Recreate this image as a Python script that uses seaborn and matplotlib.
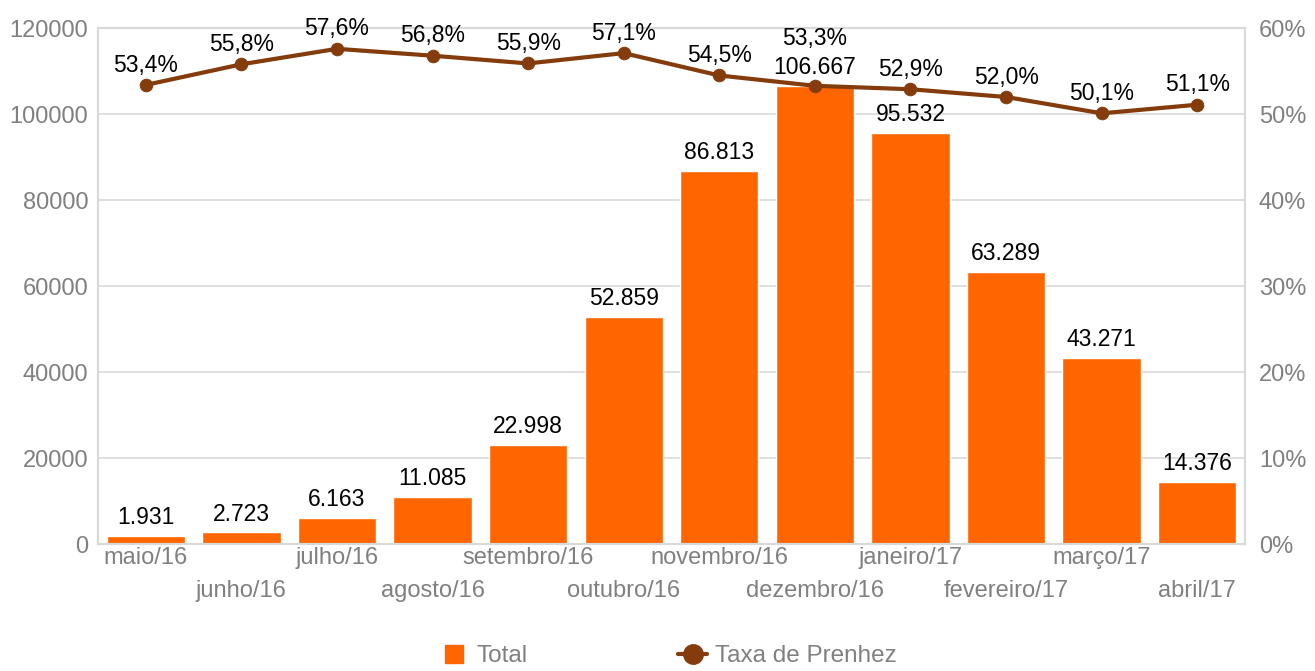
import matplotlib
matplotlib.use("Agg")
import matplotlib.pyplot as plt
import seaborn as sns
import pandas as pd
from matplotlib.lines import Line2D

# data
meses = ['maio/16', 'junho/16', 'julho/16', 'agosto/16', 'setembro/16', 'outubro/16',
         'novembro/16', 'dezembro/16', 'janeiro/17', 'fevereiro/17', 'março/17', 'abril/17']
total = [1931, 2723, 6163, 11085, 22998, 52859, 86813, 106667, 95532, 63289, 43271, 14376]
taxa = [53.4, 55.8, 57.6, 56.8, 55.9, 57.1, 54.5, 53.3, 52.9, 52.0, 50.1, 51.1]

df = pd.DataFrame({'mes': meses, 'total': total, 'taxa': taxa})

sns.set_style('white')
plt.rcParams['font.family'] = ['Liberation Sans', 'DejaVu Sans']

laranja = '#FF6600'
marrom = '#843C0C'
cinza = '#808080'
grade = '#D9D9D9'

fig = plt.figure(figsize=(13.15, 6.71), dpi=100)
ax = fig.add_axes([0.0745, 0.189, 0.8723, 0.769])

sns.barplot(data=df, x='mes', y='total', color=laranja, width=0.82,
            saturation=1, ax=ax, zorder=2)
ax.set_ylim(0, 120000)
ax.set_yticks(range(0, 120001, 20000))
ax.set_xlim(-0.5, len(meses) - 0.5)
ax.yaxis.grid(True, color=grade, linewidth=1.2, zorder=0)
ax.set_axisbelow(True)
ax.set_xlabel('')
ax.set_ylabel('')

# staggered month labels: even ones on major ticks, odd ones on minor ticks one row lower
pares = list(range(0, len(meses), 2))
impares = list(range(1, len(meses), 2))
ax.set_xticks(pares)
ax.set_xticklabels([meses[i] for i in pares])
ax.set_xticks(impares, minor=True)
ax.set_xticklabels([meses[i] for i in impares], minor=True)
ax.tick_params(axis='x', which='major', length=0, labelsize=17, colors=cinza, pad=2)
ax.tick_params(axis='x', which='minor', length=0, labelsize=17, colors=cinza, pad=26)
ax.tick_params(axis='y', length=0, labelsize=17, colors=cinza, pad=7)

for s in ax.spines.values():
    s.set_color(grade)
    s.set_linewidth(1.5)

# bar value labels
for i, v in enumerate(total):
    ax.annotate(f'{v:,}'.replace(',', '.'), (i, v), xytext=(0, 5),
                textcoords='offset points', ha='center', va='bottom',
                fontsize=16.5, color='black')

ax2 = ax.twinx()
sns.lineplot(x=list(range(len(meses))), y=taxa, color=marrom, linewidth=3,
             marker='o', markersize=9, markeredgecolor=marrom, ax=ax2, zorder=3)
ax2.set_ylim(0, 60)
ax2.set_yticks(range(0, 61, 10))
ax2.set_yticklabels([f'{t}%' for t in range(0, 61, 10)])
ax2.tick_params(axis='y', length=0, labelsize=17, colors=cinza, pad=10)
ax2.set_xlim(-0.5, len(meses) - 0.5)
for s in ax2.spines.values():
    s.set_color(grade)
    s.set_linewidth(1.5)

# percentage labels; the one over the tallest bar is lifted above the bar label
for i, t in enumerate(taxa):
    dy = 26 if meses[i] == 'dezembro/16' else 6
    ax2.annotate(f'{t:.1f}%'.replace('.', ','), (i, t), xytext=(0, dy),
                 textcoords='offset points', ha='center', va='bottom',
                 fontsize=16.5, color='black')

handles = [
    Line2D([], [], marker='s', linestyle='none', markersize=13,
           markerfacecolor=laranja, markeredgecolor=laranja),
    Line2D([], [], color=marrom, linewidth=3, marker='o', markersize=14),
]
fig.legend(handles, ['Total', 'Taxa de Prenhez'], loc='center',
           bbox_to_anchor=(0.508, 0.022), ncol=2, frameon=False,
           fontsize=17.5, labelcolor=cinza, columnspacing=6.2, handlelength=1.2,
           handletextpad=0.3)

fig.savefig('out.png', dpi=100)
